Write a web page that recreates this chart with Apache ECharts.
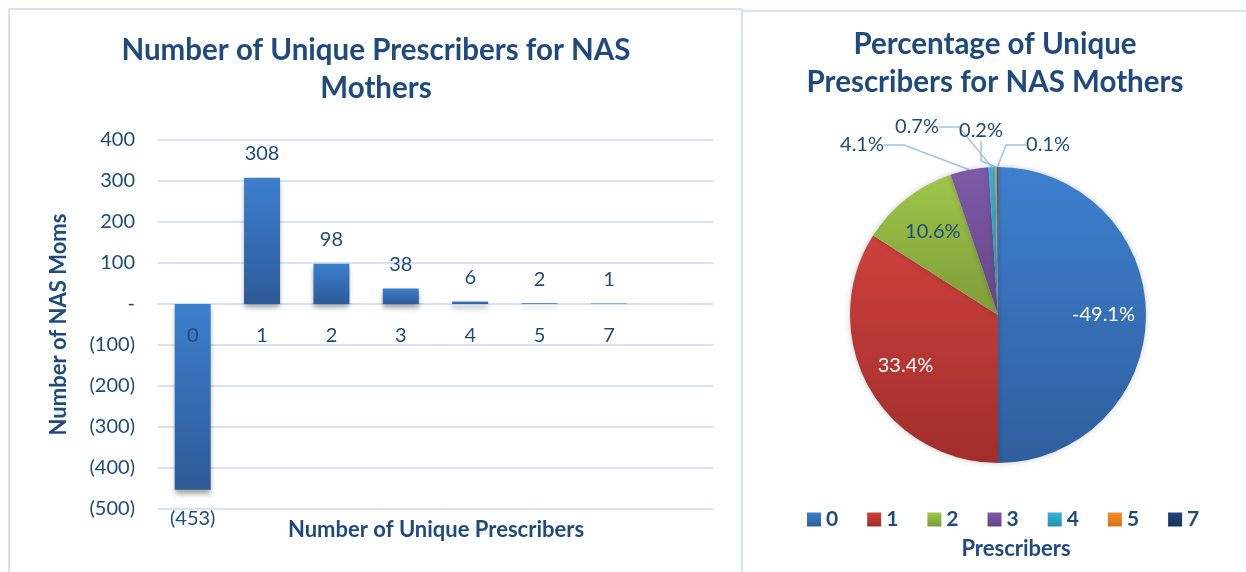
<!DOCTYPE html>
<html style="height: 100%">
<head>
    <meta charset="utf-8">
</head>
<body style="height: 100%; margin: 0; background: #fff">
    <div id="container" style="width: 1246px; height: 572px"></div>
    <script type="text/javascript" src="https://cdn.jsdelivr.net/npm/echarts@6/dist/echarts.min.js"></script>
    <script type="text/javascript">
        // bar chart data
        var categories = ['0', '1', '2', '3', '4', '5', '7', ''];
        var barValues = [-453, 308, 98, 38, 6, 2, 1, null];
        var yTicks = { min: -500, max: 400, interval: 100 };

        // pie chart data (percent shown on each slice)
        var pieNames = ['0', '1', '2', '3', '4', '5', '7'];
        var pieValues = [-49.1, 33.4, 10.6, 4.1, 0.7, 0.2, 0.1];
        var pieTop = ['#3d80cf', '#cd403c', '#9fc64b', '#7e5aa8', '#35b4d8', '#f88d24', '#22467a'];
        var pieBottom = ['#2f5e9d', '#a02e2b', '#7e9c38', '#624686', '#2590ad', '#d9701a', '#16335c'];

        var navy = '#1f4a7e';
        var font = 'Lato';
        var gridBox = { left: 158, right: 533, top: 140, bottom: 63 };
        var pieCenter = [998, 315];
        var pieRadius = 148;
        // where the small-slice labels sit, relative to the pie centre
        var outerLabelOffsets = { 3: [-136, -170], 4: [-81, -188], 5: [-17, -184], 6: [50, -170] };

        // category labels sit on the zero line: shift the x axis up from the grid bottom
        var gridHeight = 572 - gridBox.top - gridBox.bottom;
        var zeroOffset = -gridHeight * (0 - yTicks.min) / (yTicks.max - yTicks.min);

        var dom = document.getElementById('container');
        var myChart = echarts.init(dom);

        function acct(v) {
            if (v === 0) return '-';
            return v < 0 ? '(' + Math.abs(v) + ')' : String(v);
        }

        var barGrad = new echarts.graphic.LinearGradient(0, 0, 0, 1, [
            { offset: 0, color: '#3c7fcd' },
            { offset: 1, color: '#2c5a97' }
        ]);

        var pieData = pieValues.map(function (v, i) {
            var item = {
                name: pieNames[i],
                value: Math.abs(v),
                pct: v,
                itemStyle: {
                    color: new echarts.graphic.LinearGradient(0, 0, 0, 1, [
                        { offset: 0, color: pieTop[i] },
                        { offset: 1, color: pieBottom[i] }
                    ])
                }
            };
            if (i < 2) {
                item.label = { position: 'inside', color: '#fff' };
            } else if (i === 2) {
                item.label = { position: 'inside', color: navy };
            } else {
                item.label = { position: 'outside', color: navy };
            }
            return item;
        });

        var option = {
            animation: false,
            textStyle: { fontFamily: font },
            graphic: [
                // panel frames
                { type: 'line', shape: { x1: 8, y1: 9, x2: 742, y2: 9 }, style: { stroke: '#d5e2f3', lineWidth: 2 } },
                { type: 'line', shape: { x1: 9, y1: 9, x2: 9, y2: 572 }, style: { stroke: '#d5e2f3', lineWidth: 2 } },
                { type: 'line', shape: { x1: 742, y1: 9, x2: 742, y2: 572 }, style: { stroke: '#d5e2f3', lineWidth: 2 } },
                { type: 'line', shape: { x1: 742, y1: 11, x2: 1246, y2: 11 }, style: { stroke: '#d5e2f3', lineWidth: 2 } },
                // titles
                {
                    type: 'text', x: 376, y: 69,
                    style: { text: 'Number of Unique Prescribers for NAS\nMothers', fill: navy, font: 'bold 29.5px Lato', align: 'center', verticalAlign: 'middle', lineHeight: 38 }
                },
                {
                    type: 'text', x: 995, y: 63,
                    style: { text: 'Percentage of Unique\nPrescribers for NAS Mothers', fill: navy, font: 'bold 29.5px Lato', align: 'center', verticalAlign: 'middle', lineHeight: 38 }
                },
                {
                    type: 'text', x: 436, y: 530,
                    style: { text: 'Number of Unique Prescribers', fill: navy, font: 'bold 22px Lato', align: 'center', verticalAlign: 'middle' }
                },
                {
                    type: 'text', x: 1016, y: 549,
                    style: { text: 'Prescribers', fill: navy, font: 'bold 22px Lato', align: 'center', verticalAlign: 'middle' }
                }
            ],
            grid: { left: gridBox.left, right: gridBox.right, top: gridBox.top, bottom: gridBox.bottom, containLabel: false },
            xAxis: {
                type: 'category',
                data: categories,
                z: 5,
                offset: zeroOffset,
                axisLine: { show: false, onZero: false },
                axisTick: { show: false },
                axisLabel: { color: navy, fontSize: 20, margin: 22, fontFamily: font }
            },
            yAxis: {
                type: 'value',
                min: yTicks.min,
                max: yTicks.max,
                interval: yTicks.interval,
                name: 'Number of NAS Moms',
                nameLocation: 'middle',
                nameGap: 88,
                nameTextStyle: { color: navy, fontSize: 22, fontWeight: 'bold', fontFamily: font },
                axisLine: { show: false },
                axisTick: { show: false },
                axisLabel: { color: navy, fontSize: 20, margin: 23, formatter: acct },
                splitLine: { lineStyle: { color: '#d5e2f3', width: 2 } }
            },
            legend: {
                left: 802,
                top: 504,
                icon: 'rect',
                itemWidth: 14,
                itemHeight: 14,
                itemGap: 29,
                textStyle: { color: navy, fontSize: 21, fontWeight: 'bold', fontFamily: font },
                data: pieNames
            },
            series: [
                {
                    type: 'bar',
                    barWidth: 36,
                    itemStyle: {
                        color: barGrad,
                        shadowColor: 'rgba(0,0,0,0.35)',
                        shadowBlur: 5,
                        shadowOffsetY: 4
                    },
                    label: {
                        show: true,
                        color: navy,
                        fontSize: 20,
                        formatter: function (p) { return acct(p.value); }
                    },
                    data: barValues.map(function (v) {
                        return { value: v, label: { position: v < 0 ? 'bottom' : 'top', distance: v < 0 ? 19 : 14 } };
                    })
                },
                {
                    type: 'pie',
                    center: pieCenter,
                    radius: pieRadius,
                    startAngle: 90,
                    clockwise: true,
                    avoidLabelOverlap: false,
                    label: {
                        fontSize: 20,
                        formatter: function (p) { return p.data.pct.toFixed(1) + '%'; }
                    },
                    labelLine: {
                        length: 14,
                        length2: 20,
                        lineStyle: { color: '#9dc3e6', width: 1.5 }
                    },
                    labelLayout: function (p) {
                        var r = p.labelRect;
                        var lx = r.x + r.width / 2, ly = r.y + r.height / 2;
                        if (p.dataIndex < 3) {
                            // push the inner labels out to about 0.7 of the radius
                            var k = 0.37;
                            return { dx: (lx - pieCenter[0]) * k, dy: (ly - pieCenter[1]) * k };
                        }
                        var off = outerLabelOffsets[p.dataIndex];
                        return {
                            x: pieCenter[0] + off[0],
                            y: pieCenter[1] + off[1],
                            align: 'center',
                            verticalAlign: 'middle'
                        };
                    },
                    itemStyle: {
                        shadowColor: 'rgba(0,0,0,0.2)',
                        shadowBlur: 6
                    },
                    data: pieData
                }
            ]
        };
        myChart.setOption(option);
    </script>
</body>
</html>
